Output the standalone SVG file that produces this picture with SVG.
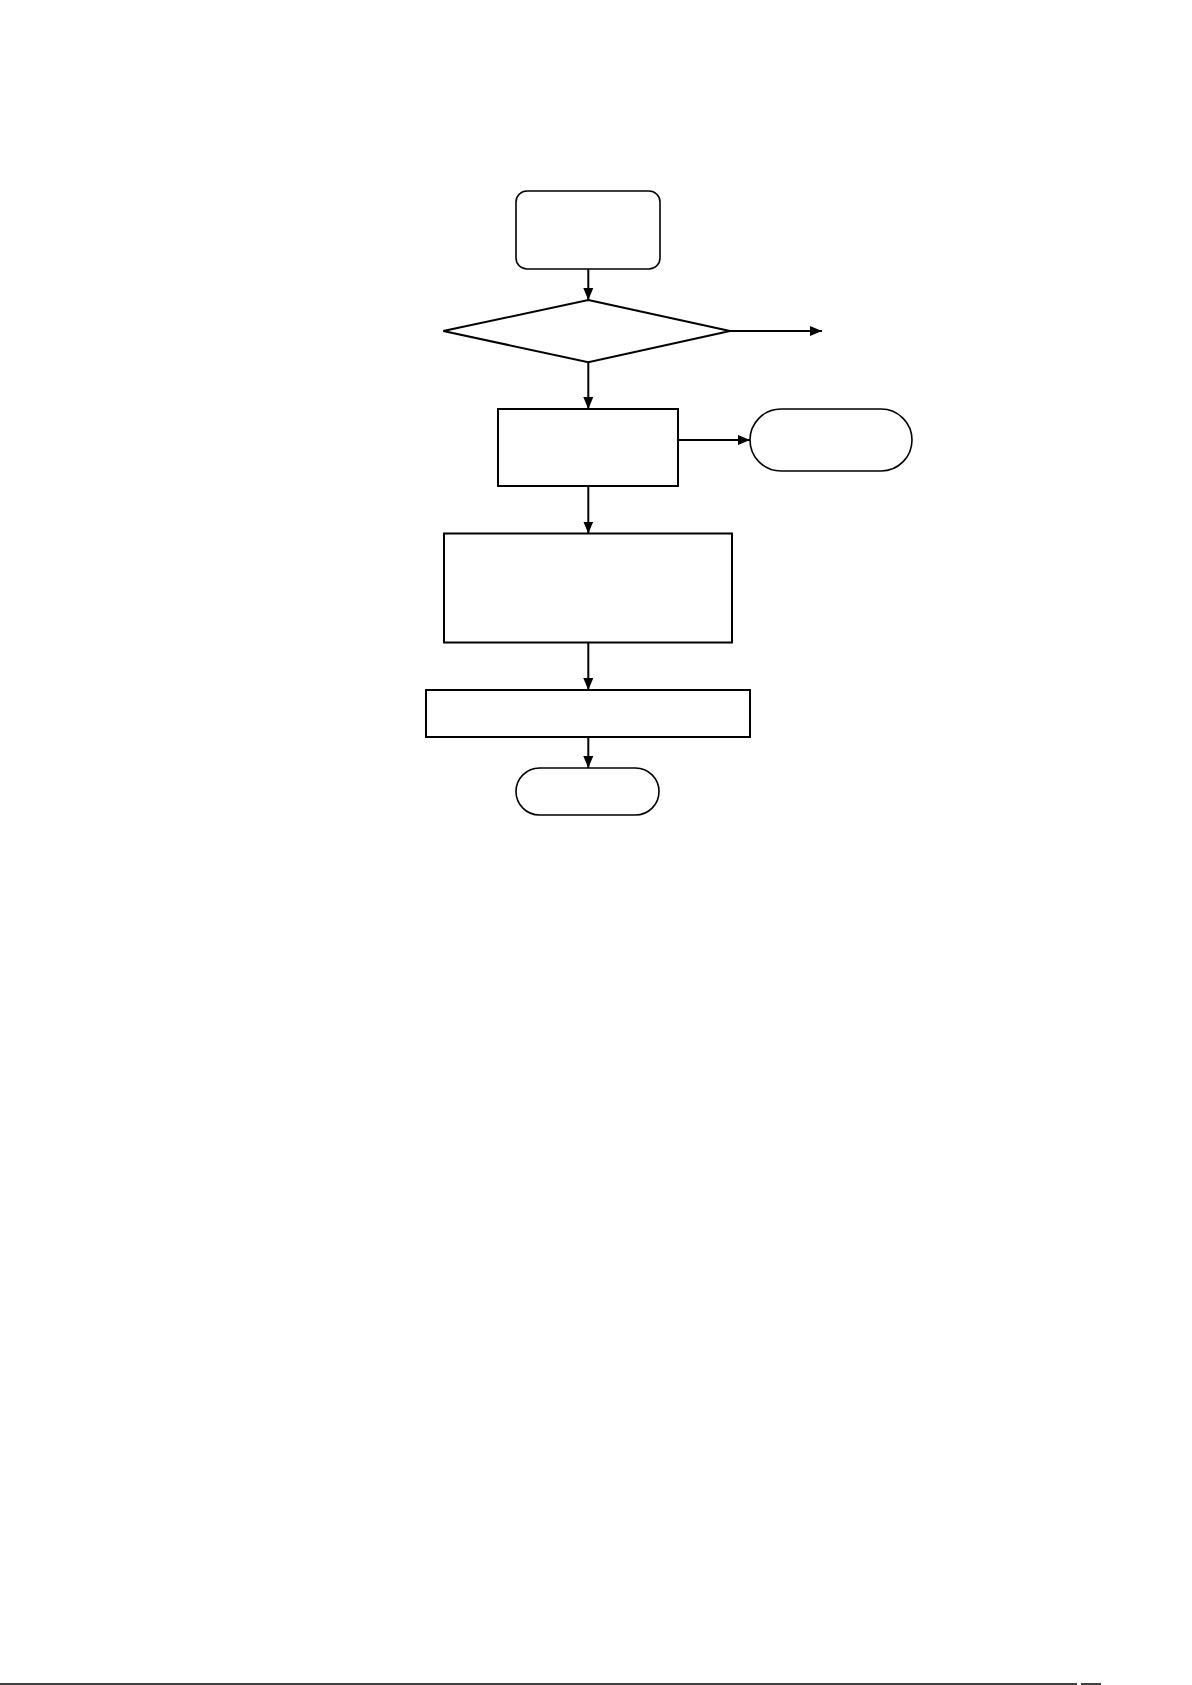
<svg xmlns="http://www.w3.org/2000/svg" width="1192" height="1685" viewBox="0 0 1192 1685">
<style>
.n{fill:#fff;stroke:#000;stroke-width:2}
.t{fill:#fff;stroke:#000;stroke-width:1.6}
.c{fill:none;stroke:#000;stroke-width:2}
</style>
<defs>
<marker id="ah" markerWidth="12" markerHeight="10" refX="12" refY="5" orient="auto" markerUnits="userSpaceOnUse">
<path d="M0,0 L12,5 L0,10 Z" fill="#000"/>
</marker>
</defs>
<rect width="1192" height="1685" fill="#fff"/>
<g id="start"><rect class="t" x="516" y="191" width="144" height="78" rx="11"/></g>
<g id="decision"><polygon class="n" points="588.3,300 730,331 588.3,362.3 443.3,331"/></g>
<g id="process1"><rect class="n" x="498" y="409" width="180" height="77"/></g>
<g id="terminal1"><rect class="t" x="750" y="409" width="162" height="62" rx="31"/></g>
<g id="process2"><rect class="n" x="444" y="533.5" width="288" height="109"/></g>
<g id="process3"><rect class="n" x="426" y="690" width="324" height="47"/></g>
<g id="end"><rect class="t" x="516" y="768" width="143" height="47" rx="23.5"/></g>
<g id="connectors">
<line class="c" x1="588.3" y1="269" x2="588.3" y2="300" marker-end="url(#ah)"/>
<line class="c" x1="730" y1="331" x2="822" y2="331" marker-end="url(#ah)"/>
<line class="c" x1="588.3" y1="362.3" x2="588.3" y2="409" marker-end="url(#ah)"/>
<line class="c" x1="678" y1="440" x2="750" y2="440" marker-end="url(#ah)"/>
<line class="c" x1="588.3" y1="486" x2="588.3" y2="533.5" marker-end="url(#ah)"/>
<line class="c" x1="588.3" y1="642.5" x2="588.3" y2="690" marker-end="url(#ah)"/>
<line class="c" x1="588.3" y1="737" x2="588.3" y2="768" marker-end="url(#ah)"/>
</g>
<line x1="0" y1="1684" x2="1077" y2="1684" stroke="#000" stroke-width="1.5"/>
<line x1="1081" y1="1684" x2="1101" y2="1684" stroke="#000" stroke-width="1.5"/>
</svg>
